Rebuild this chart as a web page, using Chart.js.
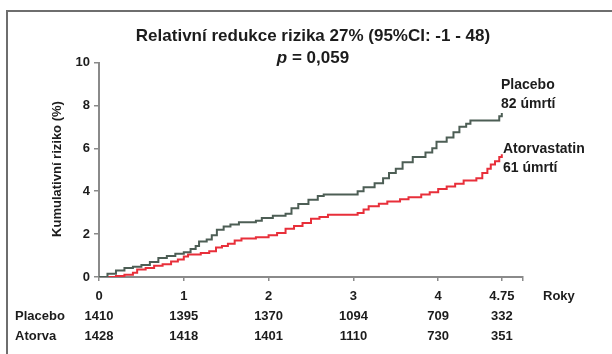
<!DOCTYPE html>
<html><head><meta charset="utf-8">
<script src="https://cdn.jsdelivr.net/npm/chart.js@4"></script>
<style>html,body{margin:0;padding:0;background:#fff;}#wrap{width:612px;height:354px;position:relative;}</style>
</head><body><div id="wrap"><canvas id="c" width="612" height="354"></canvas></div>
<script>
// ---- data ----
const placeboYears = [0,0.1,0.2,0.3,0.4,0.5,0.6,0.7,0.8,0.9,1.0,1.08,1.14,1.18,1.27,1.33,1.39,1.47,1.55,1.65,1.85,1.92,2.05,2.2,2.27,2.35,2.47,2.58,2.65,3.05,3.12,3.25,3.35,3.42,3.5,3.58,3.7,3.85,3.93,3.98,4.1,4.18,4.25,4.33,4.38,4.72,4.75];
const placeboRisk  = [0,0.15,0.3,0.42,0.48,0.56,0.7,0.88,0.98,1.08,1.15,1.3,1.45,1.65,1.75,1.95,2.2,2.35,2.45,2.55,2.62,2.75,2.85,2.95,3.2,3.4,3.6,3.78,3.85,4.0,4.18,4.37,4.6,4.85,5.05,5.35,5.6,5.8,6.0,6.3,6.5,6.75,7.0,7.15,7.3,7.5,7.65];
const atorvaYears  = [0,0.2,0.3,0.4,0.45,0.55,0.65,0.75,0.85,0.93,1.0,1.05,1.2,1.3,1.38,1.45,1.52,1.6,1.68,1.85,2.0,2.1,2.2,2.3,2.4,2.5,2.6,2.7,3.05,3.12,3.18,3.3,3.4,3.55,3.65,3.8,3.9,4.0,4.1,4.2,4.3,4.45,4.52,4.58,4.62,4.67,4.72,4.75];
const atorvaRisk   = [0,0.05,0.1,0.2,0.35,0.42,0.52,0.6,0.72,0.82,0.95,1.05,1.12,1.2,1.38,1.45,1.55,1.7,1.8,1.85,1.95,2.05,2.25,2.38,2.52,2.72,2.8,2.9,2.98,3.15,3.3,3.42,3.52,3.62,3.72,3.85,3.95,4.1,4.22,4.35,4.5,4.6,4.85,5.05,5.25,5.4,5.6,5.72];
const yearTicks = [0,1,2,3,4,4.75];
const yearTickLabels = ['0','1','2','3','4','4.75'];
const placeboAtRisk = [1410,1395,1370,1094,709,332];
const atorvaAtRisk  = [1428,1418,1401,1110,730,351];
const riskTicks = [0,2,4,6,8,10];
const titleText = 'Relativní redukce rizika 27% (95%CI: -1 - 48)';
const pText = ' = 0,059';
const yTitle = 'Kumulativní riziko (%)';
const xTitle = 'Roky';
const seriesNames = ['Placebo','Atorvastatin'];
const seriesDeaths = ['82 úmrtí','61 úmrtí'];
const rowNames = ['Placebo','Atorva'];

const FAM = '"Liberation Sans", Arial, sans-serif';
const TXT = '#1c1c1c';
const AX = '#8a8a8a';

const toXY = (xs, ys) => xs.map((x, i) => ({x, y: ys[i]}));

const annot = {
  id: 'annot',
  afterDraw(chart) {
    const ctx = chart.ctx;
    ctx.save();
    // frame
    ctx.strokeStyle = '#6e6e6e';
    ctx.lineWidth = 2;
    ctx.beginPath();
    ctx.moveTo(7, 354); ctx.lineTo(7, 11); ctx.lineTo(612, 11);
    ctx.stroke();
    ctx.fillStyle = TXT;
    ctx.textBaseline = 'middle';
    // title
    ctx.font = 'bold 17px ' + FAM;
    ctx.textAlign = 'center';
    ctx.fillText(titleText, 313, 36);
    // p line
    ctx.font = 'italic bold 17px ' + FAM;
    const wp = ctx.measureText('p').width;
    ctx.font = 'bold 17px ' + FAM;
    const wr = ctx.measureText(pText).width;
    const sx = 313 - (wp + wr) / 2;
    ctx.textAlign = 'left';
    ctx.font = 'italic bold 17px ' + FAM;
    ctx.fillText('p', sx, 58);
    ctx.font = 'bold 17px ' + FAM;
    ctx.fillText(pText, sx + wp, 58);
    // series labels
    ctx.font = 'bold 14px ' + FAM;
    ctx.fillText(seriesNames[0], 501, 85);
    ctx.fillText(seriesDeaths[0], 501, 104);
    ctx.fillText(seriesNames[1], 503, 149);
    ctx.fillText(seriesDeaths[1], 503, 168);
    // row labels + x title
    ctx.font = 'bold 13px ' + FAM;
    ctx.fillText(rowNames[0], 15, 316);
    ctx.fillText(rowNames[1], 15, 336);
    ctx.fillText(xTitle, 543, 296);
    // y title
    ctx.translate(57, 169);
    ctx.rotate(-Math.PI / 2);
    ctx.textAlign = 'center';
    ctx.font = 'bold 13px ' + FAM;
    ctx.fillText(yTitle, 0, 0);
    ctx.restore();
  }
};

new Chart(document.getElementById('c'), {
  type: 'line',
  data: {
    datasets: [
      { label: seriesNames[0], data: toXY(placeboYears, placeboRisk), borderColor: '#4d5e55', borderWidth: 2, stepped: true, pointRadius: 0, fill: false },
      { label: seriesNames[1], data: toXY(atorvaYears, atorvaRisk), borderColor: '#e82f3a', borderWidth: 2, stepped: true, pointRadius: 0, fill: false }
    ]
  },
  options: {
    responsive: false,
    animation: false,
    devicePixelRatio: 1,
    layout: { padding: { left: 0, right: 89, top: 62.5, bottom: 0 } },
    plugins: { legend: { display: false }, tooltip: { enabled: false }, title: { display: false } },
    scales: {
      x: {
        type: 'linear', min: 0, max: 5,
        afterBuildTicks: s => { s.ticks = yearTicks.concat([5]).map(v => ({ value: v })); },
        afterFit: s => { s.height = 77; },
        ticks: {
          autoSkip: false, maxRotation: 0, minRotation: 0, padding: 5, color: TXT,
          font: { family: FAM, size: 13, weight: 'bold', lineHeight: 20 / 13 },
          callback: (v, i) => i < yearTicks.length ? [yearTickLabels[i], String(placeboAtRisk[i]), String(atorvaAtRisk[i])] : ''
        },
        grid: { drawOnChartArea: false, drawTicks: true, tickLength: 4, color: AX, lineWidth: 1.5 },
        border: { color: AX, width: 2 }
      },
      y: {
        min: 0, max: 10,
        afterBuildTicks: s => { s.ticks = riskTicks.map(v => ({ value: v })); },
        afterFit: s => { s.width = 99; },
        ticks: { padding: 4, color: TXT, font: { family: FAM, size: 13, weight: 'bold' } },
        grid: { drawOnChartArea: false, drawTicks: true, tickLength: 5, color: AX, lineWidth: 1.5 },
        border: { color: AX, width: 2 }
      }
    }
  },
  plugins: [annot]
});
</script></body></html>
